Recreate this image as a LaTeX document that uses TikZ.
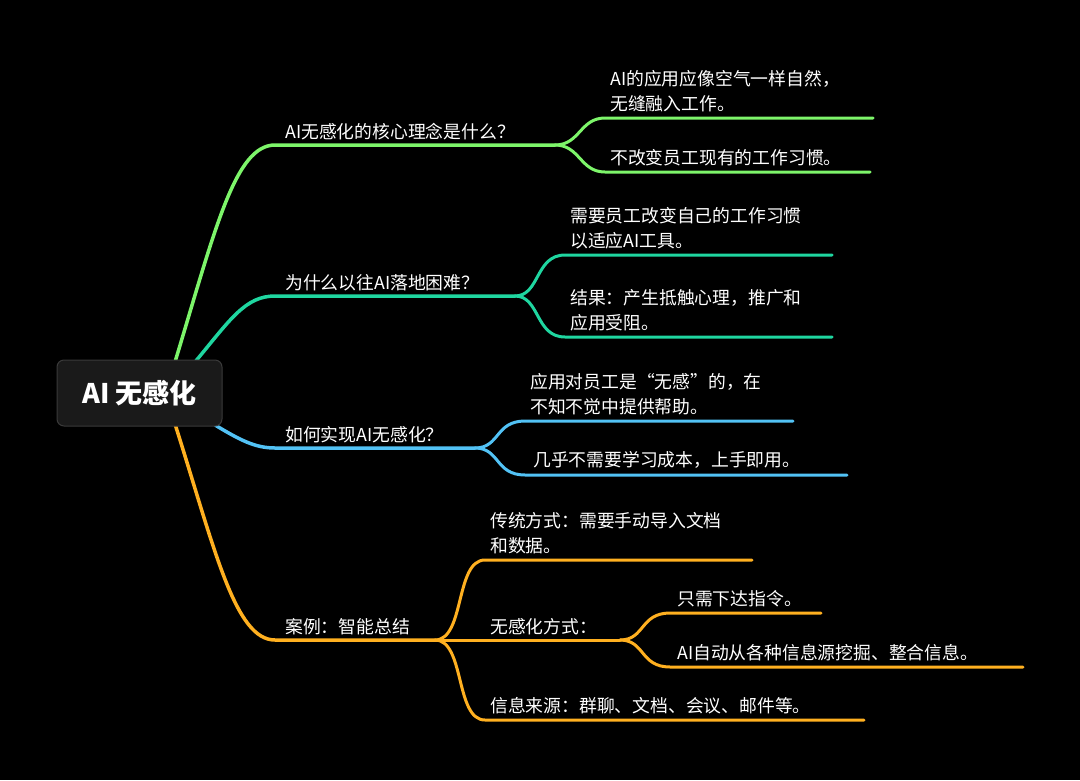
\documentclass[tikz,border=0pt]{standalone}
\usepackage{fontspec}
\setmainfont{Noto Sans CJK SC}
\begin{document}
\begin{tikzpicture}[x=1pt,y=-1pt,
  lbl/.style={text=white,font=\fontsize{17.8}{25}\selectfont,anchor=south west,inner sep=0pt,align=left},
  br/.style={line width=3.5pt,line cap=round},
  sb/.style={line width=3pt,line cap=round}]
\definecolor{cg}{HTML}{7DF56A}\definecolor{ct}{HTML}{1FD6A0}
\definecolor{cb}{HTML}{52C2F5}\definecolor{co}{HTML}{FFB020}
\definecolor{rootfill}{HTML}{1A1A1A}\definecolor{rootline}{HTML}{3A3A3A}
\fill[black] (0,0) rectangle (1080,780);
\useasboundingbox (0,0) rectangle (1080,780);
% branch 1
\coordinate (a) at (275,145);\coordinate (a2) at (555,145);
\draw[br,cg] (175,362) .. controls (215,230) and (235,145) .. (a) -- (a2);
\node[lbl] at (285,140) {AI无感化的核心理念是什么？};
\draw[sb,cg] (a2) .. controls (580,145) and (580,118) .. (605,118) -- (873,118);
\draw[sb,cg] (a2) .. controls (580,145) and (580,172) .. (605,172) -- (870,172);
\node[lbl] at (610,112) {AI的应用应像空气一样自然，\\无缝融入工作。};
\node[lbl] at (610,166) {不改变员工现有的工作习惯。};
% branch 2
\coordinate (b) at (275,296);\coordinate (b2) at (515,296);
\draw[br,ct] (195,362) .. controls (230,320) and (245,296) .. (b) -- (b2);
\node[lbl] at (285,291) {为什么以往AI落地困难？};
\draw[sb,ct] (b2) .. controls (540,296) and (535,255) .. (565,255) -- (832,255);
\draw[sb,ct] (b2) .. controls (540,296) and (535,337) .. (565,337) -- (832,337);
\node[lbl] at (570,249) {需要员工改变自己的工作习惯\\以适应AI工具。};
\node[lbl] at (570,331) {结果：产生抵触心理，推广和\\应用受阻。};
% branch 3
\coordinate (c) at (275,448);\coordinate (c2) at (475,448);
\draw[br,cb] (215,425) .. controls (240,440) and (255,448) .. (c) -- (c2);
\node[lbl] at (285,443) {如何实现AI无感化？};
\draw[sb,cb] (c2) .. controls (500,448) and (495,421) .. (525,421) -- (793,421);
\draw[sb,cb] (c2) .. controls (500,448) and (495,475) .. (525,475) -- (847,475);
\node[lbl] at (530,415) {应用对员工是“无感”的，在\\不知不觉中提供帮助。};
\node[lbl] at (533,469) {几乎不需要学习成本，上手即用。};
% branch 4
\coordinate (d) at (275,640);\coordinate (d2) at (435,640);
\draw[br,co] (175,424) .. controls (215,550) and (235,640) .. (d) -- (d2);
\node[lbl] at (285,635) {案例：智能总结};
\draw[sb,co] (d2) .. controls (465,640) and (455,560) .. (485,560) -- (752,560);
\coordinate (e2) at (620,640);
\draw[sb,co] (d2) -- (e2);
\draw[sb,co] (d2) .. controls (465,640) and (455,720) .. (485,720) -- (864,720);
\node[lbl] at (490,554) {传统方式：需要手动导入文档\\和数据。};
\node[lbl] at (490,635) {无感化方式：};
\node[lbl] at (490,714) {信息来源：群聊、文档、会议、邮件等。};
\draw[sb,co] (e2) .. controls (645,640) and (640,613) .. (670,613) -- (821,613);
\draw[sb,co] (e2) .. controls (645,640) and (640,667) .. (670,667) -- (1023,667);
\node[lbl] at (677,607) {只需下达指令。};
\node[lbl] at (677,661) {AI自动从各种信息源挖掘、整合信息。};
% root
\node[draw=rootline,fill=rootfill,rounded corners=7pt,line width=1pt,minimum width=165pt,minimum height=66pt,text=white,font=\fontsize{27}{30}\selectfont\bfseries] (root) at (139.5,393) {AI 无感化};
\end{tikzpicture}
\end{document}
